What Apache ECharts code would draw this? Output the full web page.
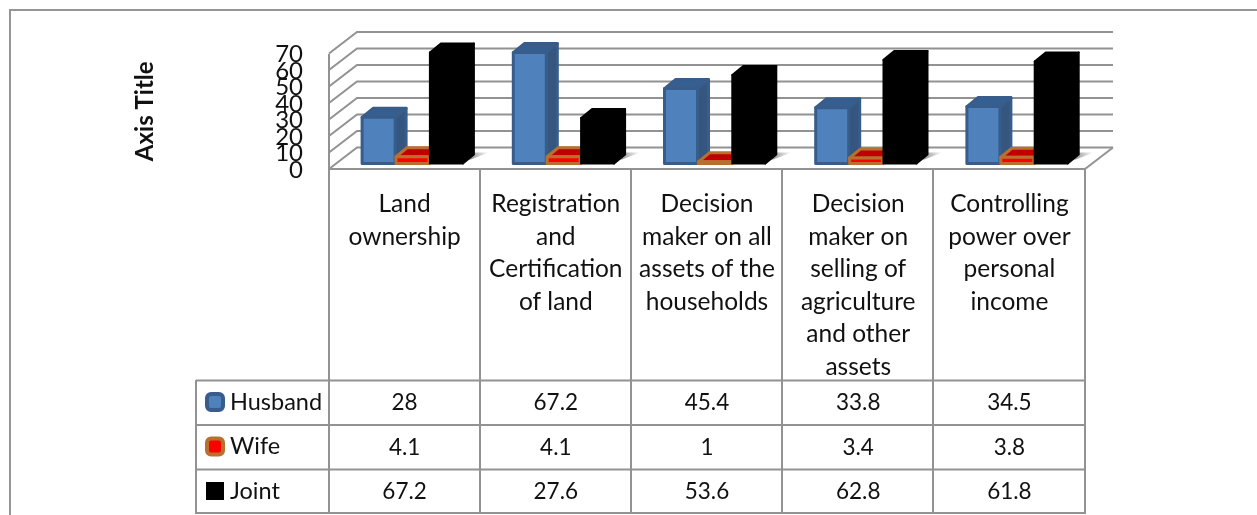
<!DOCTYPE html>
<html><head><meta charset="utf-8">
<style>html,body{margin:0;padding:0;background:#fff}#c{width:1257px;height:515px}</style>
<script src="https://cdn.jsdelivr.net/npm/echarts@6/dist/echarts.min.js"></script></head>
<body><div id="c"></div>
<script>
const categories = ['Land\nownership','Registration\nand\nCertification\nof land','Decision\nmaker on all\nassets of the\nhouseholds','Decision\nmaker on\nselling of\nagriculture\nand other\nassets','Controlling\npower over\npersonal\nincome'];
const husband = [28,67.2,45.4,33.8,34.5];
const wife = [4.1,4.1,1,3.4,3.8];
const joint = [67.2,27.6,53.6,62.8,61.8];
const ticks = [0,10,20,30,40,50,60,70];
const FONT='Lato';
const GRID='#929292';
const WD=28, WH=21.5; // wall depth
const BD=11, BH=9, SLOT=33.9, BW=33, START=-42.5, BASE=-5.5;

function bar(slot, face, side, top, stroke, sw){
  return function(p, api){
    const c0 = api.coord([api.value(0),0]);
    const c1 = api.coord([api.value(0),api.value(1)]);
    const x = c0[0]+START+slot*SLOT, y0=c0[1]+BASE, y1=c1[1]+BASE;
    const st={stroke:stroke,lineWidth:sw,lineJoin:'round'};
    return {type:'group',children:[
      {type:'polygon',shape:{points:[[x+BW,y0],[x+BW+BD,y0-BH],[x+BW+BD,y1-BH],[x+BW,y1]]},style:Object.assign({fill:side},st)},
      {type:'polygon',shape:{points:[[x,y1],[x+BD,y1-BH],[x+BW+BD,y1-BH],[x+BW,y1]]},style:Object.assign({fill:top},st)},
      {type:'polygon',shape:{points:[[x,y0],[x+BW,y0],[x+BW,y1],[x,y1]]},style:Object.assign({fill:face},st)}
    ]};
  };
}
function wall(p, api){
  const c=api.coord([0,api.value(0)]);
  const band=api.size([1,0])[0];
  const x0=c[0]-band/2, x1=x0+band*categories.length;
  const ls={stroke:GRID,lineWidth:2,fill:'none'};
  return {type:'group',children:[
    {type:'polyline',shape:{points:[[x0,c[1]],[x0+WD,c[1]-WH],[x1+WD,c[1]-WH]]},style:ls},
    {type:'text',style:{text:String(api.value(0)),x:x0-26,y:c[1]+1,align:'right',verticalAlign:'middle',font:'24px '+FONT,fill:'#111'}}
  ]};
}
function shadow(p, api){
  const c=api.coord([api.value(0),0]);
  const x=c[0]+START+2*SLOT+BW, y=c[1]+BASE;
  return {type:'polygon',shape:{points:[[x,y-4],[x+11,y-11],[x+26,y-11],[x+8,y-4]]},
    style:{fill:{type:'linear',x:0,y:0,x2:1,y2:0,colorStops:[{offset:0,color:'#707070'},{offset:1,color:'#ffffff'}]}}};
}
const rowY=[403,448,492];
function cellText(row){
  return function(p, api){
    const c=api.coord([api.value(0),0]);
    return {type:'text',style:{text:String(api.value(1)),x:c[0],y:rowY[row],align:'center',verticalAlign:'middle',font:'22.5px '+FONT,fill:'#111'}};
  };
}
const pairs=a=>a.map((v,i)=>[i,v]);
const colLines=[329,480,631,782,933,1085];
const rowLines=[380.5,425,469.5,513];
const lineStyle={stroke:GRID,lineWidth:2};
const graphics=[
  {type:'line',shape:{x1:10,y1:10,x2:1257,y2:10},style:{stroke:'#969696',lineWidth:2},z:0},
  {type:'line',shape:{x1:10,y1:9,x2:10,y2:515},style:{stroke:'#969696',lineWidth:2},z:0},
  ...colLines.map(x=>({type:'line',shape:{x1:x,y1:168,x2:x,y2:514},style:lineStyle,z:1})),
  {type:'line',shape:{x1:329,y1:54,x2:329,y2:169},style:lineStyle,z:1},
  {type:'line',shape:{x1:329,y1:169,x2:1085,y2:169},style:lineStyle,z:1},
  {type:'line',shape:{x1:1085,y1:169,x2:1113,y2:147.5},style:lineStyle,z:1},
  ...rowLines.map(y=>({type:'line',shape:{x1:196,y1:y,x2:1085,y2:y},style:lineStyle,z:1})),
  {type:'line',shape:{x1:196,y1:380,x2:196,y2:514},style:lineStyle,z:1}
];
const chart=echarts.init(document.getElementById('c'),null,{renderer:'canvas'});
chart.setOption({
  animation:false,
  backgroundColor:'#fff',
  grid:{left:329,right:172,top:53.5,height:115.5,containLabel:false},
  xAxis:{type:'category',data:categories,axisLine:{show:false},axisTick:{show:false},splitLine:{show:false},
    axisLabel:{interval:0,margin:19,fontFamily:FONT,fontSize:24.5,lineHeight:32.5,color:'#111',verticalAlign:'top',align:'center'}},
  yAxis:{type:'value',min:0,max:70,interval:10,axisLine:{show:false},axisTick:{show:false},splitLine:{show:false},
    name:'Axis Title',nameLocation:'middle',nameGap:172,nameRotate:90,
    nameTextStyle:{fontFamily:FONT,fontSize:24,fontWeight:'bold',color:'#111'},
    axisLabel:{show:false}},
  legend:{orient:'vertical',left:205,top:390,height:130,itemWidth:16,itemHeight:16,itemGap:20.5,
    textStyle:{fontFamily:FONT,fontSize:23.5,color:'#111',padding:[0,0,0,2]},padding:0,selectedMode:false,
    data:[
      {name:'Husband',icon:'roundRect',itemStyle:{color:'#4f81bd',borderColor:'#385d8a',borderWidth:4}},
      {name:'Wife',icon:'roundRect',itemStyle:{color:'#ff0000',borderColor:'#b8702f',borderWidth:4}},
      {name:'Joint',icon:'rect',itemStyle:{color:'#000',borderColor:'#000',borderWidth:2}}
    ]},
  graphic:graphics,
  series:[
    {type:'custom',name:'wall',data:ticks.map(t=>[t]),renderItem:wall,silent:true,z:2,encode:{y:0}},
    {type:'custom',name:'shadow',data:pairs(joint),renderItem:shadow,silent:true,z:3},
    {type:'custom',name:'Husband',data:pairs(husband),renderItem:bar(0,'#4f81bd','#34567f','#365f91','#385d8a',3),z:4,itemStyle:{color:'#4f81bd'}},
    {type:'custom',name:'Wife',data:pairs(wife),renderItem:bar(1,'#ff0000','#c00000','#c00000','#b8702f',3),z:5,itemStyle:{color:'#ff0000'}},
    {type:'custom',name:'Joint',data:pairs(joint),renderItem:bar(2,'#000','#000','#000','#000',2),z:6,itemStyle:{color:'#000'}},
    {type:'custom',name:'t1',data:pairs(husband),renderItem:cellText(0),silent:true,z:7},
    {type:'custom',name:'t2',data:pairs(wife),renderItem:cellText(1),silent:true,z:7},
    {type:'custom',name:'t3',data:pairs(joint),renderItem:cellText(2),silent:true,z:7}
  ]
});
</script></body></html>
